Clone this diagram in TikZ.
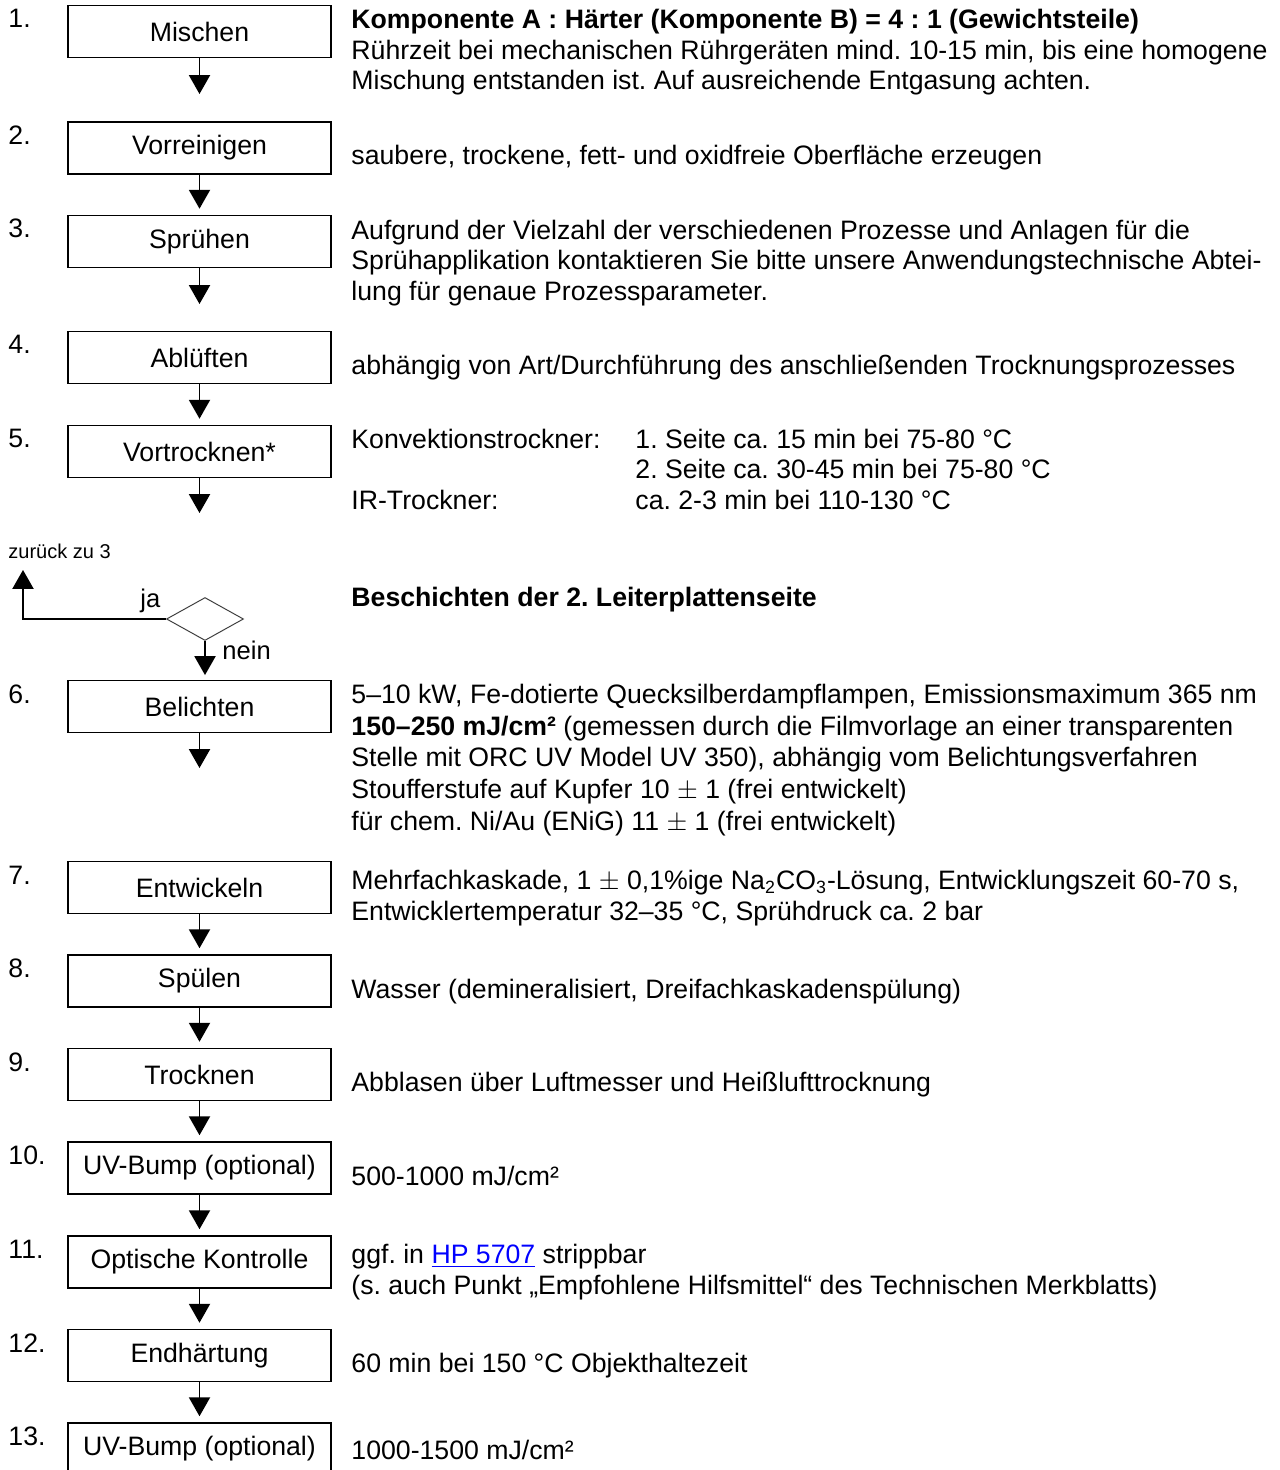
\documentclass[tikz,border=0pt]{standalone}
\usepackage{fontspec}
\setmainfont{Liberation Sans}
\usetikzlibrary{arrows.meta,shapes.geometric}
\frenchspacing

\begin{document}
\begin{tikzpicture}[
        x=0.45pt, y=-0.45pt,
        font=\fontsize{12pt}{13.73pt}\selectfont,
        stepbox/.style={draw, line width=0.5pt, fill=white, minimum width=118.35pt, minimum height=23.4pt, inner sep=0pt,
            append after command={[draw, line width=0.5pt] ([xshift=0.45pt,yshift=-0.3pt]\tikzlastnode.north east) |- ([xshift=0.3pt,yshift=-0.45pt]\tikzlastnode.south west)}},
        decision/.style={draw=black!75, line width=0.45pt, diamond, minimum width=34.65pt, minimum height=19.35pt, inner sep=0pt},
        arrow/.style={-{Triangle[length=8.5pt,width=9.5pt]}, line width=0.7pt},
        note/.style={anchor=base west, align=left, inner sep=0pt},
        num/.style={anchor=base west, inner sep=0pt}
    ]
        \clip (0,0) rectangle (1279,1470);

        % process steps with their numbers
        \foreach \n/\y/\lbl in {1/31.5/Mischen, 2/148/Vorreinigen, 3/241.5/Sprühen, 4/357.5/Ablüften, 5/451.5/Vortrocknen*, 6/706.5/Belichten, 7/887.5/Entwickeln, 8/981/Spülen, 9/1074.5/Trocknen, 10/1168/UV-Bump (optional), 11/1262/Optische Kontrolle, 12/1355.5/Endhärtung, 13/1449/UV-Bump (optional)}
        {
            \node[stepbox] (b\n) at (199.5,\y) {\lbl};
            \node[num] (n\n) at (8,\y-3.5) {\n.};
        }

        % arrows between the steps
        \foreach \a/\b in {2/3,4/5,7/8,8/9,9/10,10/11,11/12,12/13}
            \draw[arrow, shorten >=2.8pt] (b\a) -- (b\b);

        % arrows with a free end
        \coordinate (e1) at (199.5,94);
        \coordinate (e3) at (199.5,304);
        \coordinate (e5) at (199.5,513);
        \coordinate (e6) at (199.5,768);
        \foreach \n in {1,3,5,6}
            \draw[arrow] (b\n) -- (e\n);

        % decision: second side of the board
        \node[decision] (dec) at (205,619) {};
        \coordinate (back) at (23,570);
        \draw[arrow] (dec.west) -| (back);
        \draw[arrow, shorten >=2.2pt] (dec.south) -- (dec.south |- b6.north);
        \node[num, font=\fontsize{11.5pt}{13pt}\selectfont] (ja) at (140,607) {ja};
        \node[num, font=\fontsize{11.5pt}{13pt}\selectfont] (nein) at (222,659) {nein};
        \node[num, font=\fontsize{9pt}{10pt}\selectfont] (zu3) at (8,558) {zurück zu 3};

        % descriptions (placed at the baseline of their last line)
        \node[note] (t1) at (351,90) {\textbf{Komponente A : Härter (Komponente B) = 4 : 1 (Gewichtsteile)}\\
            Rührzeit bei mechanischen Rührgeräten mind. 10-15 min, bis eine homogene\\
            Mischung entstanden ist. Auf ausreichende Entgasung achten.};
        \node[note] (t2) at (351,164.5) {saubere, trockene, fett- und oxidfreie Oberfläche erzeugen};
        \node[note] (t3) at (351,300.5) {Aufgrund der Vielzahl der verschiedenen Prozesse und Anlagen für die\\
            Sprühapplikation kontaktieren Sie bitte unsere Anwendungstechnische Abtei-\\
            lung für genaue Prozessparameter.};
        \node[note] (t4) at (351,374.5) {abhängig von Art/Durchführung des anschließenden Trocknungsprozesses};
        \node[note] (t5) at (351,448.5) {Konvektionstrockner:};
        \node[note] (t5ir) at (351,509.5) {IR-Trockner:};
        \node[note] (t5val) at (635,509.5) {1. Seite ca. 15 min bei 75-80 °C\\
            2. Seite ca. 30-45 min bei 75-80 °C\\
            ca. 2-3 min bei 110-130 °C};
        \node[note] (side2) at (351,606.5) {\textbf{Beschichten der 2. Leiterplattenseite}};
        \node[note, font=\fontsize{12pt}{14.29pt}\selectfont] (t6) at (351,830.5) {5–10 kW, Fe-dotierte Quecksilberdampflampen, Emissionsmaximum 365 nm\\
            \textbf{150–250 mJ/cm²} (gemessen durch die Filmvorlage an einer transparenten\\
            Stelle mit ORC UV Model UV 350), abhängig vom Belichtungsverfahren\\
            Stoufferstufe auf Kupfer 10 $\pm$ 1 (frei entwickelt)\\
            für chem. Ni/Au (ENiG) 11 $\pm$ 1 (frei entwickelt)};
        \node[note] (t7) at (351,920.5) {Mehrfachkaskade, 1 $\pm$ 0,1\%ige Na\textsubscript{2}CO\textsubscript{3}-Lösung, Entwicklungszeit 60-70 s,\\
            Entwicklertemperatur 32–35 °C, Sprühdruck ca. 2 bar};
        \node[note] (t8) at (351,998.5) {Wasser (demineralisiert, Dreifachkaskadenspülung)};
        \node[note] (t9) at (351,1091.5) {Abblasen über Luftmesser und Heißlufttrocknung};
        \node[note] (t10) at (351,1185.5) {500-1000 mJ/cm²};
        \node[note] (t11) at (351,1294) {ggf. in {\color{blue}\underline{HP 5707}} strippbar\\
            (s. auch Punkt „Empfohlene Hilfsmittel“ des Technischen Merkblatts)};
        \node[note] (t12) at (351,1372.5) {60 min bei 150 °C Objekthaltezeit};
        \node[note] (t13) at (351,1459.5) {1000-1500 mJ/cm²};
    \end{tikzpicture}
\end{document}
